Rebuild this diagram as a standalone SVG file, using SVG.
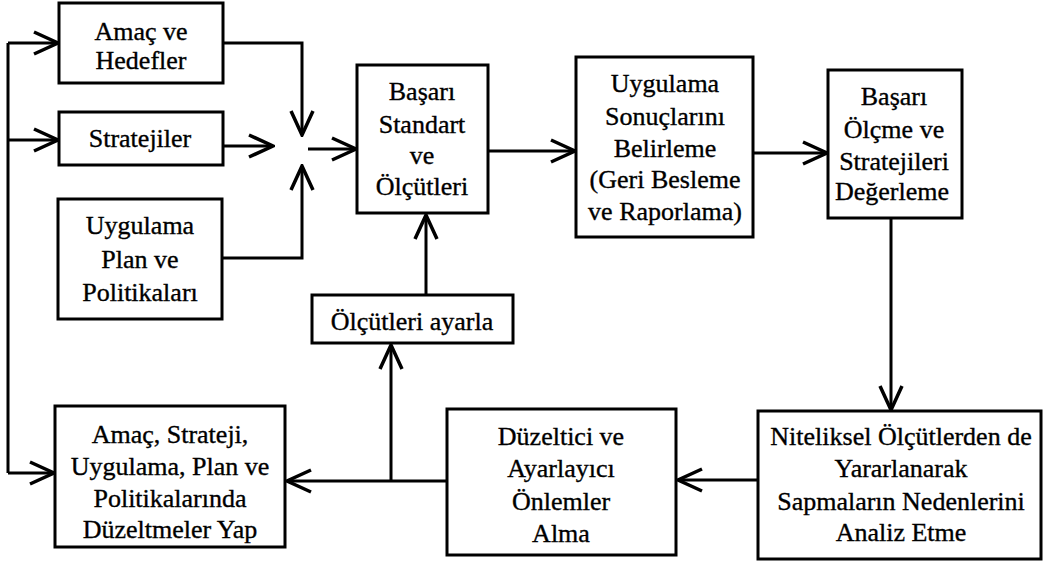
<svg xmlns="http://www.w3.org/2000/svg" width="1049" height="564" viewBox="0 0 1049 564">
  <style>
    .box { fill: #fff; stroke: #000; stroke-width: 3; }
    .lbl { font-family: 'Liberation Serif', 'DejaVu Serif', 'Times New Roman', serif; font-size: 26px; fill: #000; stroke: #000; stroke-width: 0.35; text-anchor: middle; }
    .wire { fill: none; stroke: #000; stroke-width: 3; }
  </style>
  <defs>
    <marker id="arrow" viewBox="-26 -14 28 28" refX="0" refY="0" markerWidth="28" markerHeight="28" markerUnits="userSpaceOnUse" orient="auto">
      <path d="M-24,-11 L0,0 L-24,11" fill="none" stroke="#000" stroke-width="3.5" stroke-linejoin="miter"/>
    </marker>
  </defs>
  <rect width="1049" height="564" fill="#fff"/>

  <g id="connectors">
    <!-- feedback bus on the left edge -->
    <path class="wire" d="M8,43 V473"/>
    <path class="wire" d="M8,43 H58" marker-end="url(#arrow)"/>
    <path class="wire" d="M8,140 H58" marker-end="url(#arrow)"/>
    <path class="wire" d="M8,473 H54" marker-end="url(#arrow)"/>
    <!-- inputs converging on the junction -->
    <path class="wire" d="M223,43 H302 V135" marker-end="url(#arrow)"/>
    <path class="wire" d="M223,146 H273" marker-end="url(#arrow)"/>
    <path class="wire" d="M222,258 H302 V166" marker-end="url(#arrow)"/>
    <path class="wire" d="M308,149 H356" marker-end="url(#arrow)"/>
    <!-- main forward chain -->
    <path class="wire" d="M488,151 H575" marker-end="url(#arrow)"/>
    <path class="wire" d="M753,153 H827" marker-end="url(#arrow)"/>
    <path class="wire" d="M891,218 V410" marker-end="url(#arrow)"/>
    <path class="wire" d="M757,480 H678" marker-end="url(#arrow)"/>
    <path class="wire" d="M447,481 H287" marker-end="url(#arrow)"/>
    <!-- adjustment branch -->
    <path class="wire" d="M391,481 V345" marker-end="url(#arrow)"/>
    <path class="wire" d="M426,295 V215" marker-end="url(#arrow)"/>
  </g>

  <g id="amac-hedefler">
    <rect class="box" x="59" y="3" width="164" height="80"/>
    <text class="lbl" x="141" y="40">Amaç ve</text>
    <text class="lbl" x="141" y="69">Hedefler</text>
  </g>

  <g id="stratejiler">
    <rect class="box" x="59" y="112" width="164" height="53"/>
    <text class="lbl" x="140" y="147">Stratejiler</text>
  </g>

  <g id="uygulama-plan">
    <rect class="box" x="58" y="199" width="164" height="120"/>
    <text class="lbl" x="140" y="234">Uygulama</text>
    <text class="lbl" x="140" y="268">Plan ve</text>
    <text class="lbl" x="140" y="301">Politikaları</text>
  </g>

  <g id="basari-standart">
    <rect class="box" x="357" y="65" width="131" height="148"/>
    <text class="lbl" x="422" y="100">Başarı</text>
    <text class="lbl" x="422" y="133">Standart</text>
    <text class="lbl" x="422" y="164">ve</text>
    <text class="lbl" x="422" y="195">Ölçütleri</text>
  </g>

  <g id="uygulama-sonuclari">
    <rect class="box" x="576" y="57" width="177" height="180"/>
    <text class="lbl" x="665" y="92">Uygulama</text>
    <text class="lbl" x="665" y="125">Sonuçlarını</text>
    <text class="lbl" x="665" y="157">Belirleme</text>
    <text class="lbl" x="665" y="188">(Geri Besleme</text>
    <text class="lbl" x="665" y="220">ve Raporlama)</text>
  </g>

  <g id="basari-olcme">
    <rect class="box" x="828" y="70" width="134" height="148"/>
    <text class="lbl" x="894" y="105">Başarı</text>
    <text class="lbl" x="894" y="138">Ölçme ve</text>
    <text class="lbl" x="894" y="170">Stratejileri</text>
    <text class="lbl" x="892" y="200">Değerleme</text>
  </g>

  <g id="olcutleri-ayarla">
    <rect class="box" x="312" y="295" width="201" height="48"/>
    <text class="lbl" x="412" y="330">Ölçütleri ayarla</text>
  </g>

  <g id="niteliksel">
    <rect class="box" x="758" y="411" width="283" height="148"/>
    <text class="lbl" x="901" y="445">Niteliksel Ölçütlerden de</text>
    <text class="lbl" x="901" y="477">Yararlanarak</text>
    <text class="lbl" x="901" y="510">Sapmaların Nedenlerini</text>
    <text class="lbl" x="901" y="541">Analiz Etme</text>
  </g>

  <g id="duzeltici">
    <rect class="box" x="447" y="409" width="229" height="146"/>
    <text class="lbl" x="561" y="445">Düzeltici ve</text>
    <text class="lbl" x="561" y="477">Ayarlayıcı</text>
    <text class="lbl" x="561" y="510">Önlemler</text>
    <text class="lbl" x="561" y="542">Alma</text>
  </g>

  <g id="duzeltmeler-yap">
    <rect class="box" x="55" y="406" width="230" height="141"/>
    <text class="lbl" x="170" y="443">Amaç, Strateji,</text>
    <text class="lbl" x="170" y="475">Uygulama, Plan ve</text>
    <text class="lbl" x="170" y="507">Politikalarında</text>
    <text class="lbl" x="170" y="538">Düzeltmeler Yap</text>
  </g>
</svg>
